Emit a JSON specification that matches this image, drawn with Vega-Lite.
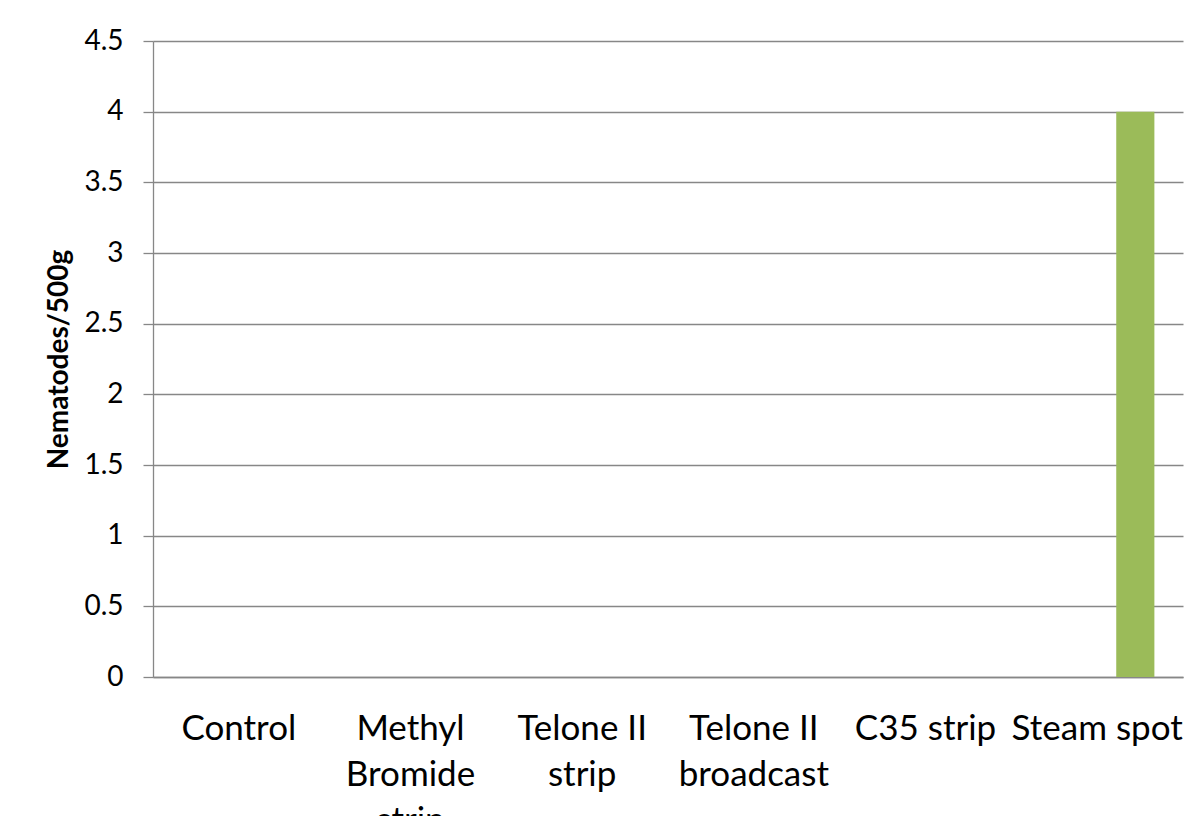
{
  "$schema": "https://vega.github.io/schema/vega-lite/v6.json",
  "width": 1030,
  "height": 636,
  "autosize": "none",
  "padding": {"left": 153, "top": 41, "right": 5, "bottom": 139},
  "background": "white",
  "config": {"view": {"stroke": null}, "font": "Lato"},
  "data": {
    "values": [
      {"treatment": "Control", "series": "Series1", "nematodes": 0},
      {"treatment": "Control", "series": "Series2", "nematodes": 0},
      {"treatment": "Control", "series": "Series3", "nematodes": 0},
      {"treatment": "Methyl\nBromide\nstrip", "series": "Series1", "nematodes": 0},
      {"treatment": "Methyl\nBromide\nstrip", "series": "Series2", "nematodes": 0},
      {"treatment": "Methyl\nBromide\nstrip", "series": "Series3", "nematodes": 0},
      {"treatment": "Telone II\nstrip", "series": "Series1", "nematodes": 0},
      {"treatment": "Telone II\nstrip", "series": "Series2", "nematodes": 0},
      {"treatment": "Telone II\nstrip", "series": "Series3", "nematodes": 0},
      {"treatment": "Telone II\nbroadcast", "series": "Series1", "nematodes": 0},
      {"treatment": "Telone II\nbroadcast", "series": "Series2", "nematodes": 0},
      {"treatment": "Telone II\nbroadcast", "series": "Series3", "nematodes": 0},
      {"treatment": "C35 strip", "series": "Series1", "nematodes": 0},
      {"treatment": "C35 strip", "series": "Series2", "nematodes": 0},
      {"treatment": "C35 strip", "series": "Series3", "nematodes": 0},
      {"treatment": "Steam spot", "series": "Series1", "nematodes": 0},
      {"treatment": "Steam spot", "series": "Series2", "nematodes": 0},
      {"treatment": "Steam spot", "series": "Series3", "nematodes": 4}
    ]
  },
  "mark": {"type": "bar"},
  "encoding": {
    "x": {
      "field": "treatment",
      "type": "nominal",
      "sort": null,
      "scale": {"paddingInner": 0, "paddingOuter": 0},
      "axis": {
        "title": null,
        "labelExpr": "split(datum.value, '\\n')",
        "labelAngle": 0,
        "labelFontSize": 35,
        "labelLineHeight": 46,
        "labelColor": "black",
        "labelPadding": 34,
        "labelLimit": 0,
        "labelOverlap": false,
        "labelBound": false,
        "ticks": false,
        "grid": false,
        "domainColor": "#878787",
        "domainWidth": 1.5
      }
    },
    "xOffset": {
      "field": "series",
      "type": "nominal",
      "sort": null,
      "scale": {"paddingInner": 0, "paddingOuter": 0.75}
    },
    "y": {
      "field": "nematodes",
      "type": "quantitative",
      "scale": {"domain": [0, 4.5], "nice": false},
      "axis": {
        "values": [0, 0.5, 1, 1.5, 2, 2.5, 3, 3.5, 4, 4.5],
        "labelExpr": "toString(datum.value)",
        "grid": true,
        "gridColor": "#878787",
        "gridWidth": 1.3,
        "domainColor": "#878787",
        "domainWidth": 1.3,
        "tickColor": "#878787",
        "tickWidth": 1.3,
        "tickSize": 10,
        "labelFontSize": 28,
        "labelColor": "black",
        "labelPadding": 20,
        "title": "Nematodes/500g",
        "titleFontSize": 28,
        "titleFontWeight": "bold",
        "titleColor": "black",
        "titlePadding": 10
      }
    },
    "color": {
      "field": "series",
      "type": "nominal",
      "scale": {"domain": ["Series1", "Series2", "Series3"], "range": ["#4F81BD", "#C0504D", "#9BBB59"]},
      "legend": null
    }
  }
}
